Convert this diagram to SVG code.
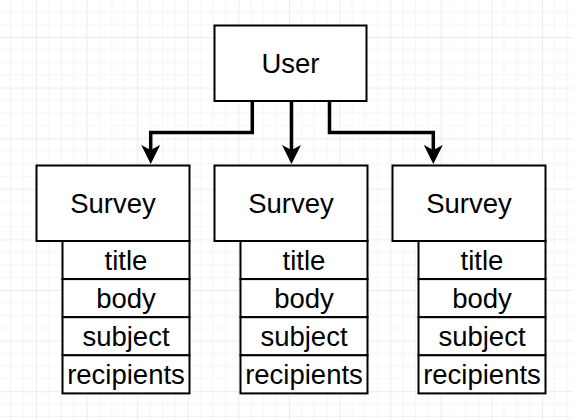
<svg xmlns="http://www.w3.org/2000/svg" width="573" height="420" viewBox="0 0 573 420">
  <defs>
    <pattern id="grid" patternUnits="userSpaceOnUse" x="-14.6" y="-13.6" width="50.6" height="50.6">
      <path d="M12.65 0V50.6M25.3 0V50.6M37.95 0V50.6M0 12.65H50.6M0 25.3H50.6M0 37.95H50.6" stroke="#f5f5f5" stroke-width="1" fill="none"/>
      <path d="M0.5 0V50.6M0 0.5H50.6" stroke="#ececec" stroke-width="1" fill="none"/>
    </pattern>
  </defs>
  <style>
    .box { fill: #fff; stroke: #000; stroke-width: 2; }
    .edge { fill: none; stroke: #000; stroke-width: 3.5; }
    .head { fill: #000; }
    .t { font-family: "Liberation Sans", Arial, sans-serif; font-size: 27.5px; fill: #000; text-anchor: middle; }
  </style>
  <rect width="573" height="420" fill="#fff"/>
  <rect width="573" height="420" fill="url(#grid)"/>

  <g id="connectors">
    <path class="edge" d="M252.3 101V132.5H150.7V151" />
    <path class="head" d="M150.7 164L141.2 145L150.7 150L160.2 145Z"/>
    <path class="edge" d="M291.5 101V151" />
    <path class="head" d="M291.5 164L282 145L291.5 150L301 145Z"/>
    <path class="edge" d="M329.5 101V132.5H433.3V151" />
    <path class="head" d="M433.3 164L423.8 145L433.3 150L442.8 145Z"/>
  </g>

  <g id="user">
    <rect class="box" x="214.5" y="25.5" width="152" height="75.5"/>
    <text class="t" x="290.5" y="72.8">User</text>
  </g>

  <g id="survey1">
    <rect class="box" x="36.5" y="165.5" width="153" height="75.5"/>
    <text class="t" x="113" y="213">Survey</text>
    <rect class="box" x="62.5" y="241" width="127" height="38.1"/>
    <text class="t" x="126" y="269.7">title</text>
    <rect class="box" x="62.5" y="279.1" width="127" height="38.1"/>
    <text class="t" x="126" y="307.8">body</text>
    <rect class="box" x="62.5" y="317.2" width="127" height="38.1"/>
    <text class="t" x="126" y="345.9">subject</text>
    <rect class="box" x="62.5" y="355.3" width="127" height="38.1"/>
    <text class="t" x="126" y="384">recipients</text>
  </g>

  <g id="survey2">
    <rect class="box" x="214.5" y="165.5" width="153" height="75.5"/>
    <text class="t" x="291" y="213">Survey</text>
    <rect class="box" x="240.5" y="241" width="127" height="38.1"/>
    <text class="t" x="304" y="269.7">title</text>
    <rect class="box" x="240.5" y="279.1" width="127" height="38.1"/>
    <text class="t" x="304" y="307.8">body</text>
    <rect class="box" x="240.5" y="317.2" width="127" height="38.1"/>
    <text class="t" x="304" y="345.9">subject</text>
    <rect class="box" x="240.5" y="355.3" width="127" height="38.1"/>
    <text class="t" x="304" y="384">recipients</text>
  </g>

  <g id="survey3">
    <rect class="box" x="392.5" y="165.5" width="153" height="75.5"/>
    <text class="t" x="469" y="213">Survey</text>
    <rect class="box" x="418.5" y="241" width="127" height="38.1"/>
    <text class="t" x="482" y="269.7">title</text>
    <rect class="box" x="418.5" y="279.1" width="127" height="38.1"/>
    <text class="t" x="482" y="307.8">body</text>
    <rect class="box" x="418.5" y="317.2" width="127" height="38.1"/>
    <text class="t" x="482" y="345.9">subject</text>
    <rect class="box" x="418.5" y="355.3" width="127" height="38.1"/>
    <text class="t" x="482" y="384">recipients</text>
  </g>
</svg>
